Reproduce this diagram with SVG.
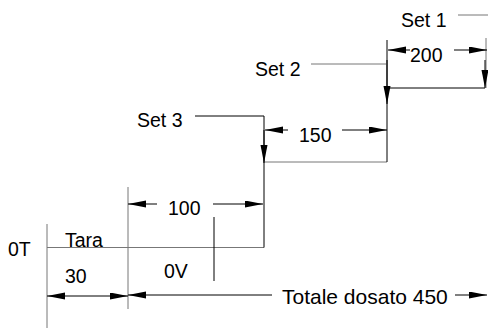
<svg xmlns="http://www.w3.org/2000/svg" width="488" height="329" viewBox="0 0 488 329">
<style>
text{font-family:"Liberation Sans",Arial,sans-serif;font-size:19.5px;fill:#000}
.big{font-size:21px}
.k{stroke:#000;stroke-width:1;fill:none}
.g{stroke:#777;stroke-width:1;fill:none}
.a{stroke:#000;stroke-width:1;fill:none;marker-end:url(#ah)}
</style>
<defs>
<marker id="ah" markerUnits="userSpaceOnUse" markerWidth="20" markerHeight="8" refX="18" refY="3.5" orient="auto">
<path d="M0,0 L18,3.5 L0,7 Z" fill="#000"/>
</marker>
</defs>
<rect width="488" height="329" fill="#fff"/>
<g id="steps">
<path class="g" d="M47,224 V328"/>
<path class="g" d="M47,247.5 H264"/>
<path class="g" d="M128,187 V309"/>
<path class="k" d="M214,217 V281"/>
<path class="k" d="M264,116 V247.5"/>
<path class="k" d="M195,116 H264"/>
<path class="g" d="M264,162 H387"/>
<path class="k" d="M387,40 V162"/>
<path class="g" d="M311,64 H387"/>
<path class="k" d="M387,88 H485"/>
<path class="g" d="M458,15 H488"/>
<path class="g" d="M486,38 V88"/>
</g>
<g id="connectors">
<path class="a" d="M387,60 V104"/>
<path class="a" d="M264,130 V163"/>
<path class="a" d="M485,60 V88"/>
<path class="a" d="M410,50 H388"/>
<path class="a" d="M454,50 H487"/>
<path class="a" d="M288,130 H265"/>
<path class="a" d="M342,130 H387"/>
<path class="a" d="M157,204 H128"/>
<path class="a" d="M213,204 H263"/>
<path class="a" d="M88,296 H47"/>
<path class="a" d="M88,296 H128"/>
<path class="a" d="M272,295 H128"/>
<path class="a" d="M455,295 H487"/>
</g>
<g id="labels">
<text x="401" y="27">Set 1</text>
<text x="410" y="62">200</text>
<text x="255" y="76">Set 2</text>
<text x="137" y="127">Set 3</text>
<text x="299" y="142">150</text>
<text x="168" y="215">100</text>
<text x="65" y="247">Tara</text>
<text x="8" y="256">0T</text>
<text x="65" y="283">30</text>
<text x="164" y="278">0V</text>
<text class="big" x="282" y="304">Totale dosato 450</text>
</g>
</svg>
